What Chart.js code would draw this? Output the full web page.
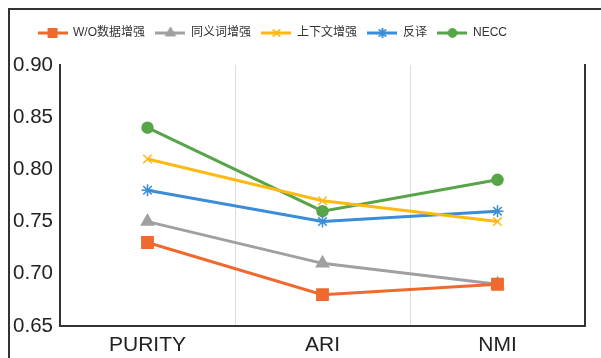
<!DOCTYPE html>
<html>
<head>
<meta charset="utf-8">
<script src="https://cdn.jsdelivr.net/npm/chart.js@4/dist/chart.umd.min.js"></script>
<style>
  html, body { margin: 0; padding: 0; background: #fff; overflow: hidden; }
  #frame { position: absolute; left: 8px; top: 8px; width: 700px; height: 500px;
           border-left: 2px solid #333; border-top: 2px solid #333; }
  #wrap { position: absolute; left: 0; top: 0; width: 601px; height: 358px; }
</style>
</head>
<body>
<div id="frame"></div>
<div id="wrap"><canvas id="myChart" width="601" height="358"></canvas></div>
<script>
// metrics along the x axis
const categories = ['PURITY', 'ARI', 'NMI'];

// one row of scores per method
const seriesNames = ['W/O数据增强', '同义词增强', '上下文增强', '反译', 'NECC'];
const noAugment = [0.73, 0.68, 0.69];
const synonym = [0.75, 0.71, 0.69];
const context = [0.81, 0.77, 0.75];
const backTrans = [0.78, 0.75, 0.76];
const necc = [0.84, 0.76, 0.79];

const yTicks = [0.65, 0.70, 0.75, 0.80, 0.85, 0.90];

const FONT = "'Liberation Sans', Arial, 'Noto Sans CJK SC', sans-serif";

const styles = [
    { color: '#EE6A2F', point: 'rect', radius: 8, legendRadius: 6 },
    { color: '#A0A0A0', point: 'triangle', radius: 7, legendRadius: 5 },
    { color: '#FFB915', point: 'crossRot', radius: 6, legendRadius: 5 },
    { color: '#3A8DD6', point: 'star', radius: 6, legendRadius: 5 },
    { color: '#57A548', point: 'circle', radius: 5.5, legendRadius: 4 }
];

// small line + marker swatch for the legend
function makeSwatch(st) {
    const c = document.createElement('canvas');
    c.width = 30;
    c.height = 12;
    const g = c.getContext('2d');
    g.strokeStyle = st.color;
    g.lineWidth = 3;
    g.beginPath();
    g.moveTo(0, 6);
    g.lineTo(30, 6);
    g.stroke();
    g.fillStyle = st.color;
    g.lineWidth = 1.5;
    Chart.helpers.drawPoint(g, { pointStyle: st.point, radius: st.legendRadius, rotation: 0, borderWidth: 1.5 }, 15, 6);
    g.fill();
    g.stroke();
    return c;
}

// leave room under the legend and nudge the row a bit to the left
const legendGap = {
    id: 'legendGap',
    beforeInit(chart) {
        const fit = chart.legend.fit;
        chart.legend.fit = function () {
            fit.call(this);
            this.height += 16;
            if (this.lineWidths && this.lineWidths.length) {
                this.lineWidths[0] += 50;
            }
        };
    }
};

const allData = [noAugment, synonym, context, backTrans, necc];

const datasets = allData.map((vals, i) => ({
    label: seriesNames[i],
    data: vals,
    borderColor: styles[i].color,
    backgroundColor: styles[i].color,
    borderWidth: 3,
    tension: 0,
    pointStyle: styles[i].point,
    pointRadius: styles[i].radius,
    pointHoverRadius: styles[i].radius,
    pointBorderWidth: 1.5,
    yAxisID: 'y'
}));

const ctx = document.getElementById('myChart').getContext('2d');
const myChart = new Chart(ctx, {
    type: 'line',
    data: { labels: categories, datasets: datasets },
    plugins: [legendGap],
    options: {
        responsive: false,
        animation: false,
        layout: { padding: { left: 10, right: 16, top: 16, bottom: 0 } },
        plugins: {
            tooltip: { enabled: false },
            legend: {
                position: 'top',
                labels: {
                    usePointStyle: true,
                    pointStyleWidth: 29,
                    padding: 11,
                    color: '#333',
                    font: { family: FONT, size: 12 },
                    generateLabels: chart => chart.data.datasets.map((ds, i) => ({
                        text: ds.label,
                        pointStyle: makeSwatch(styles[i]),
                        fillStyle: ds.borderColor,
                        strokeStyle: ds.borderColor,
                        lineWidth: 0,
                        hidden: false,
                        datasetIndex: i,
                        fontColor: '#333'
                    }))
                }
            }
        },
        scales: {
            x: {
                offset: true,
                grid: { offset: true, display: true, drawTicks: false, color: '#D6DDE5', lineWidth: 1 },
                border: { display: true, color: '#333', width: 2 },
                ticks: { color: '#222', font: { family: FONT, size: 21 }, padding: 7 },
                afterFit: s => { s.height = 32; }
            },
            y: {
                min: 0.65,
                max: 0.90,
                afterBuildTicks: s => { s.ticks = yTicks.map(v => ({ value: v })); },
                grid: { display: false, drawTicks: false },
                border: { display: true, color: '#333', width: 2 },
                ticks: { color: '#222', font: { family: FONT, size: 20.5 }, padding: 7,
                         callback: v => Number(v).toFixed(2) },
                afterFit: s => { s.width = 50; }
            },
            yRight: {
                position: 'right',
                min: 0.65,
                max: 0.90,
                grid: { display: false, drawTicks: false },
                border: { display: true, color: '#333', width: 2 },
                ticks: { display: false },
                afterFit: s => { s.width = 0; }
            }
        }
    }
});
</script>
</body>
</html>
